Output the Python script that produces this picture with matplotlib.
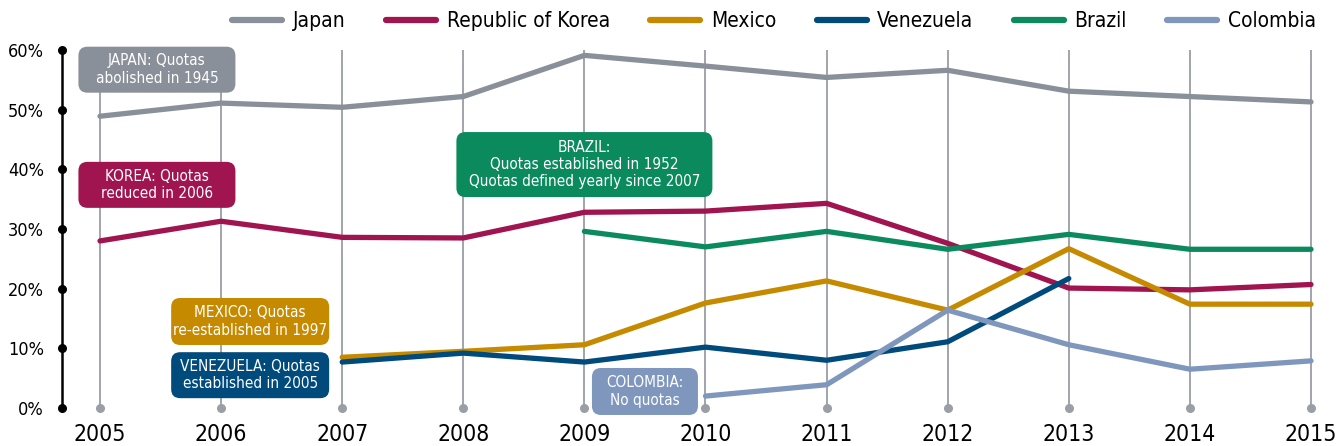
import numpy as np
import matplotlib
matplotlib.use("Agg")
from matplotlib import pyplot as plt
from matplotlib.patches import FancyBboxPatch
from matplotlib.transforms import IdentityTransform, blended_transform_factory
from matplotlib.lines import Line2D

plt.rcParams['font.family'] = ['DejaVu Sans']
plt.rcParams['font.stretch'] = 'condensed'

years = np.arange(2005, 2016)

# share of each country (%), NaN where there is no data
japan = [48.9, 51.1, 50.4, 52.2, 59.1, 57.3, 55.4, 56.6, 53.1, 52.2, 51.3]
korea = [28.0, 31.3, 28.6, 28.5, 32.8, 33.0, 34.3, 27.6, 20.1, 19.8, 20.7]
mexico = [np.nan, np.nan, 8.5, 9.5, 10.6, 17.6, 21.3, 16.4, 26.7, 17.4, 17.4]
venezuela = [np.nan, np.nan, 7.7, 9.2, 7.7, 10.2, 8.0, 11.1, 21.7, np.nan, np.nan]
brazil = [np.nan, np.nan, np.nan, np.nan, 29.6, 27.0, 29.6, 26.6, 29.1, 26.6, 26.6]
colombia = [np.nan] * 5 + [2.0, 3.9, 16.4, 10.6, 6.5, 7.9]

names = ["Japan", "Republic of Korea", "Mexico", "Venezuela", "Brazil", "Colombia"]
series = [japan, korea, mexico, venezuela, brazil, colombia]
colors = ["#8a9099", "#a0144f", "#c58a00", "#004a7c", "#0b8a5e", "#7f97bd"]

yticks = [0, 10, 20, 30, 40, 50, 60]

fig = plt.figure(figsize=(13.37, 4.46), dpi=100)
ax = fig.add_axes([62 / 1337, 1 - 408 / 446, (1320 - 62) / 1337, (408 - 50) / 446])
ax.set_xlim(2005 - 38 / 121.1, 2015 + 9 / 121.1)
ax.set_ylim(0, 60)

# vertical year guides with a dot at the base
for yr in years:
    ax.plot([yr, yr], [0, 60], color="#9a9ea5", lw=1.3, zorder=1)
ax.scatter(years, np.zeros(len(years)), s=30, color="#9a9ea5", zorder=2, clip_on=False)

# left axis: black rule with dots at ticks
for s in ["top", "right", "bottom"]:
    ax.spines[s].set_visible(False)
ax.spines["left"].set_linewidth(1.8)
ax.spines["left"].set_color("black")
trans = blended_transform_factory(ax.transAxes, ax.transData)
ax.scatter(np.zeros(len(yticks)), yticks, s=30, color="black", transform=trans,
           zorder=5, clip_on=False)

ax.set_yticks(yticks)
ax.set_yticklabels([f"{v}%" for v in yticks])
ax.set_xticks(years)
ax.set_xticklabels([str(y) for y in years])
ax.tick_params(axis="y", length=0, pad=13, labelsize=13)
ax.tick_params(axis="x", length=0, pad=11, labelsize=16.5)

for vals, c in zip(series, colors):
    ax.plot(years, vals, color=c, lw=3.8, solid_capstyle="round",
            solid_joinstyle="round", zorder=3, clip_on=False)


def callout(x, y, w, h, text, color):
    # rounded label box, sized in pixels, centred on a data point
    cx, cy = ax.transData.transform((x, y))
    box = FancyBboxPatch((cx - w / 2, cy - h / 2), w, h,
                         boxstyle="round,pad=0,rounding_size=9",
                         facecolor=color, edgecolor="none", zorder=6)
    ax.add_artist(box)
    box.set_transform(IdentityTransform())
    box.set_clip_on(False)
    ax.text(x, y, text, ha="center", va="center", color="white", fontsize=11,
            linespacing=1.2, zorder=7)


callout(2005.47, 56.7, 157, 46, "JAPAN: Quotas\nabolished in 1945", colors[0])
callout(2005.47, 37.4, 157, 46, "KOREA: Quotas\nreduced in 2006", colors[1])
callout(2009.0, 40.8, 256, 65,
        "BRAZIL:\nQuotas established in 1952\nQuotas defined yearly since 2007", colors[4])
callout(2006.24, 14.5, 158, 47, "MEXICO: Quotas\nre-established in 1997", colors[2])
callout(2006.24, 5.5, 158, 46, "VENEZUELA: Quotas\nestablished in 2005", colors[3])
callout(2009.5, 2.77, 106, 47, "COLOMBIA:\nNo quotas", colors[5])

handles = [Line2D([], [], color=c, lw=4.5, solid_capstyle="round") for c in colors]
fig.legend(handles, names, loc="center right", bbox_to_anchor=(1316 / 1337, 1 - 21 / 446),
           ncol=6, frameon=False, fontsize=15, handlelength=2.4, handletextpad=0.5,
           columnspacing=1.95, borderpad=0, borderaxespad=0)

fig.savefig("out.png", dpi=100)
